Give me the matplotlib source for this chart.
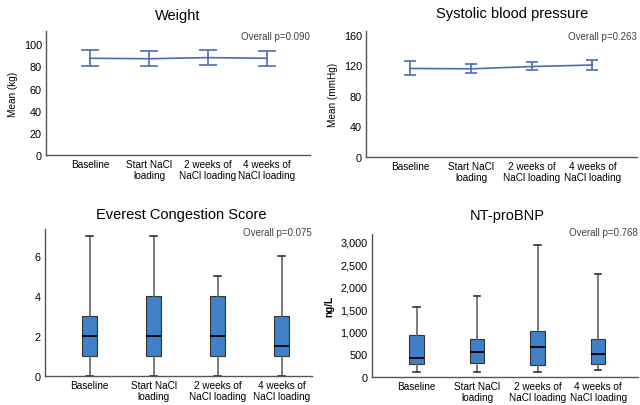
import numpy as np
import matplotlib
matplotlib.use('Agg')
import matplotlib.pyplot as plt
from matplotlib.ticker import FuncFormatter

plt.rcParams['font.family'] = ['Liberation Sans', 'DejaVu Sans']

categories = ['Baseline', 'Start NaCl\nloading', '2 weeks of\nNaCl loading', '4 weeks of\nNaCl loading']

# Weight (kg): mean and 95% CI
weight_mean = [87.4, 87.0, 88.0, 87.4]
weight_lo = [80.5, 80.5, 81.0, 80.5]
weight_hi = [94.5, 94.0, 94.5, 94.0]

# Systolic blood pressure (mmHg)
sbp_mean = [116.0, 115.5, 118.5, 120.5]
sbp_lo = [107.5, 109.5, 113.5, 114.5]
sbp_hi = [126.0, 122.0, 124.0, 127.5]

# Everest congestion score: whisker low, q1, median, q3, whisker high
everest_stats = [
    [0, 1, 2, 3, 7],
    [0, 1, 2, 4, 7],
    [0, 1, 2, 4, 5],
    [0, 1, 1.5, 3, 6],
]

# NT-proBNP (ng/L)
bnp_stats = [
    [96, 281, 422, 933, 1556],
    [104, 296, 548, 830, 1785],
    [111, 252, 659, 1007, 2919],
    [148, 274, 504, 837, 2281],
]

p_values = ['0.090', '0.263', '0.075', '0.768']

line_col = '#4a6db5'
box_col = '#3f80c8'
spine_col = '#555555'
fs_x = 7.2
fs_y = 7.8

fig = plt.figure(figsize=(6.4, 4.06), dpi=100)

ax1 = fig.add_axes([0.072, 0.616, 0.412, 0.305])
ax2 = fig.add_axes([0.572, 0.611, 0.423, 0.310])
ax3 = fig.add_axes([0.070, 0.071, 0.417, 0.362])
ax4 = fig.add_axes([0.581, 0.070, 0.416, 0.351])


def style(ax):
    for s in ['top', 'right']:
        ax.spines[s].set_visible(False)
    for s in ['left', 'bottom']:
        ax.spines[s].set_color(spine_col)
        ax.spines[s].set_linewidth(1.0)
    ax.tick_params(length=0, pad=3)
    ax.tick_params(axis='y', labelsize=fs_y)
    ax.set_xticks(range(len(categories)))
    ax.set_xticklabels(categories, fontsize=fs_x, linespacing=1.1)


def line_panel(ax, mean, lo, hi, cap):
    x = np.arange(len(mean))
    mean = np.array(mean)
    err = [mean - np.array(lo), np.array(hi) - mean]
    ax.errorbar(x, mean, yerr=err, color=line_col, lw=1.2, capsize=cap,
                capthick=1.2, elinewidth=1.2)


def box_panel(ax, stats, width):
    bx = []
    for s in stats:
        bx.append({'whislo': s[0], 'q1': s[1], 'med': s[2], 'q3': s[3],
                   'whishi': s[4], 'fliers': []})
    ax.bxp(bx, positions=range(len(stats)), widths=width, patch_artist=True,
           showfliers=False, capwidths=0.11,
           boxprops=dict(facecolor=box_col, edgecolor='#333333', lw=0.8),
           medianprops=dict(color='black', lw=1.3),
           whiskerprops=dict(color='#666666', lw=1.2),
           capprops=dict(color='#333333', lw=1.2))


line_panel(ax1, weight_mean, weight_lo, weight_hi, 6.4)
style(ax1)
ax1.set_ylim(0, 112)
ax1.set_yticks(range(0, 101, 20))
ax1.set_xlim(-0.75, 3.73)
ax1.set_ylabel('Mean (kg)', fontsize=fs_x)
ax1.set_title('Weight', fontsize=10.5, pad=9)

line_panel(ax2, sbp_mean, sbp_lo, sbp_hi, 4.6)
style(ax2)
ax2.set_ylim(0, 165)
ax2.set_yticks(range(0, 161, 40))
ax2.set_xlim(-0.73, 3.73)
ax2.set_ylabel('Mean (mmHg)', fontsize=fs_x)
ax2.set_title('Systolic blood pressure', fontsize=10.5, pad=10, x=0.54)

box_panel(ax3, everest_stats, 0.23)
style(ax3)
ax3.set_ylim(0, 7.35)
ax3.set_yticks([0, 2, 4, 6])
ax3.set_xlim(-0.7, 3.47)
ax3.set_title('Everest Congestion Score', fontsize=10.5, pad=8, x=0.51)

box_panel(ax4, bnp_stats, 0.24)
style(ax4)
ax4.set_ylim(0, 3170)
ax4.set_yticks(range(0, 3001, 500))
ax4.yaxis.set_major_formatter(FuncFormatter(lambda v, p: f'{int(v):,}'))
ax4.set_xlim(-0.74, 3.66)
ax4.set_ylabel('ng/L', fontsize=fs_x, fontweight='bold')
ax4.set_title('NT-proBNP', fontsize=10.5, pad=11, x=0.51)

for ax, p, yy in zip([ax1, ax2, ax3, ax4], p_values, [0.96, 0.96, 0.98, 1.015]):
    ax.text(1.0, yy, f'Overall p={p}', transform=ax.transAxes, ha='right',
            va='center', fontsize=7, color='#444444')

fig.savefig('out.png', dpi=100)
